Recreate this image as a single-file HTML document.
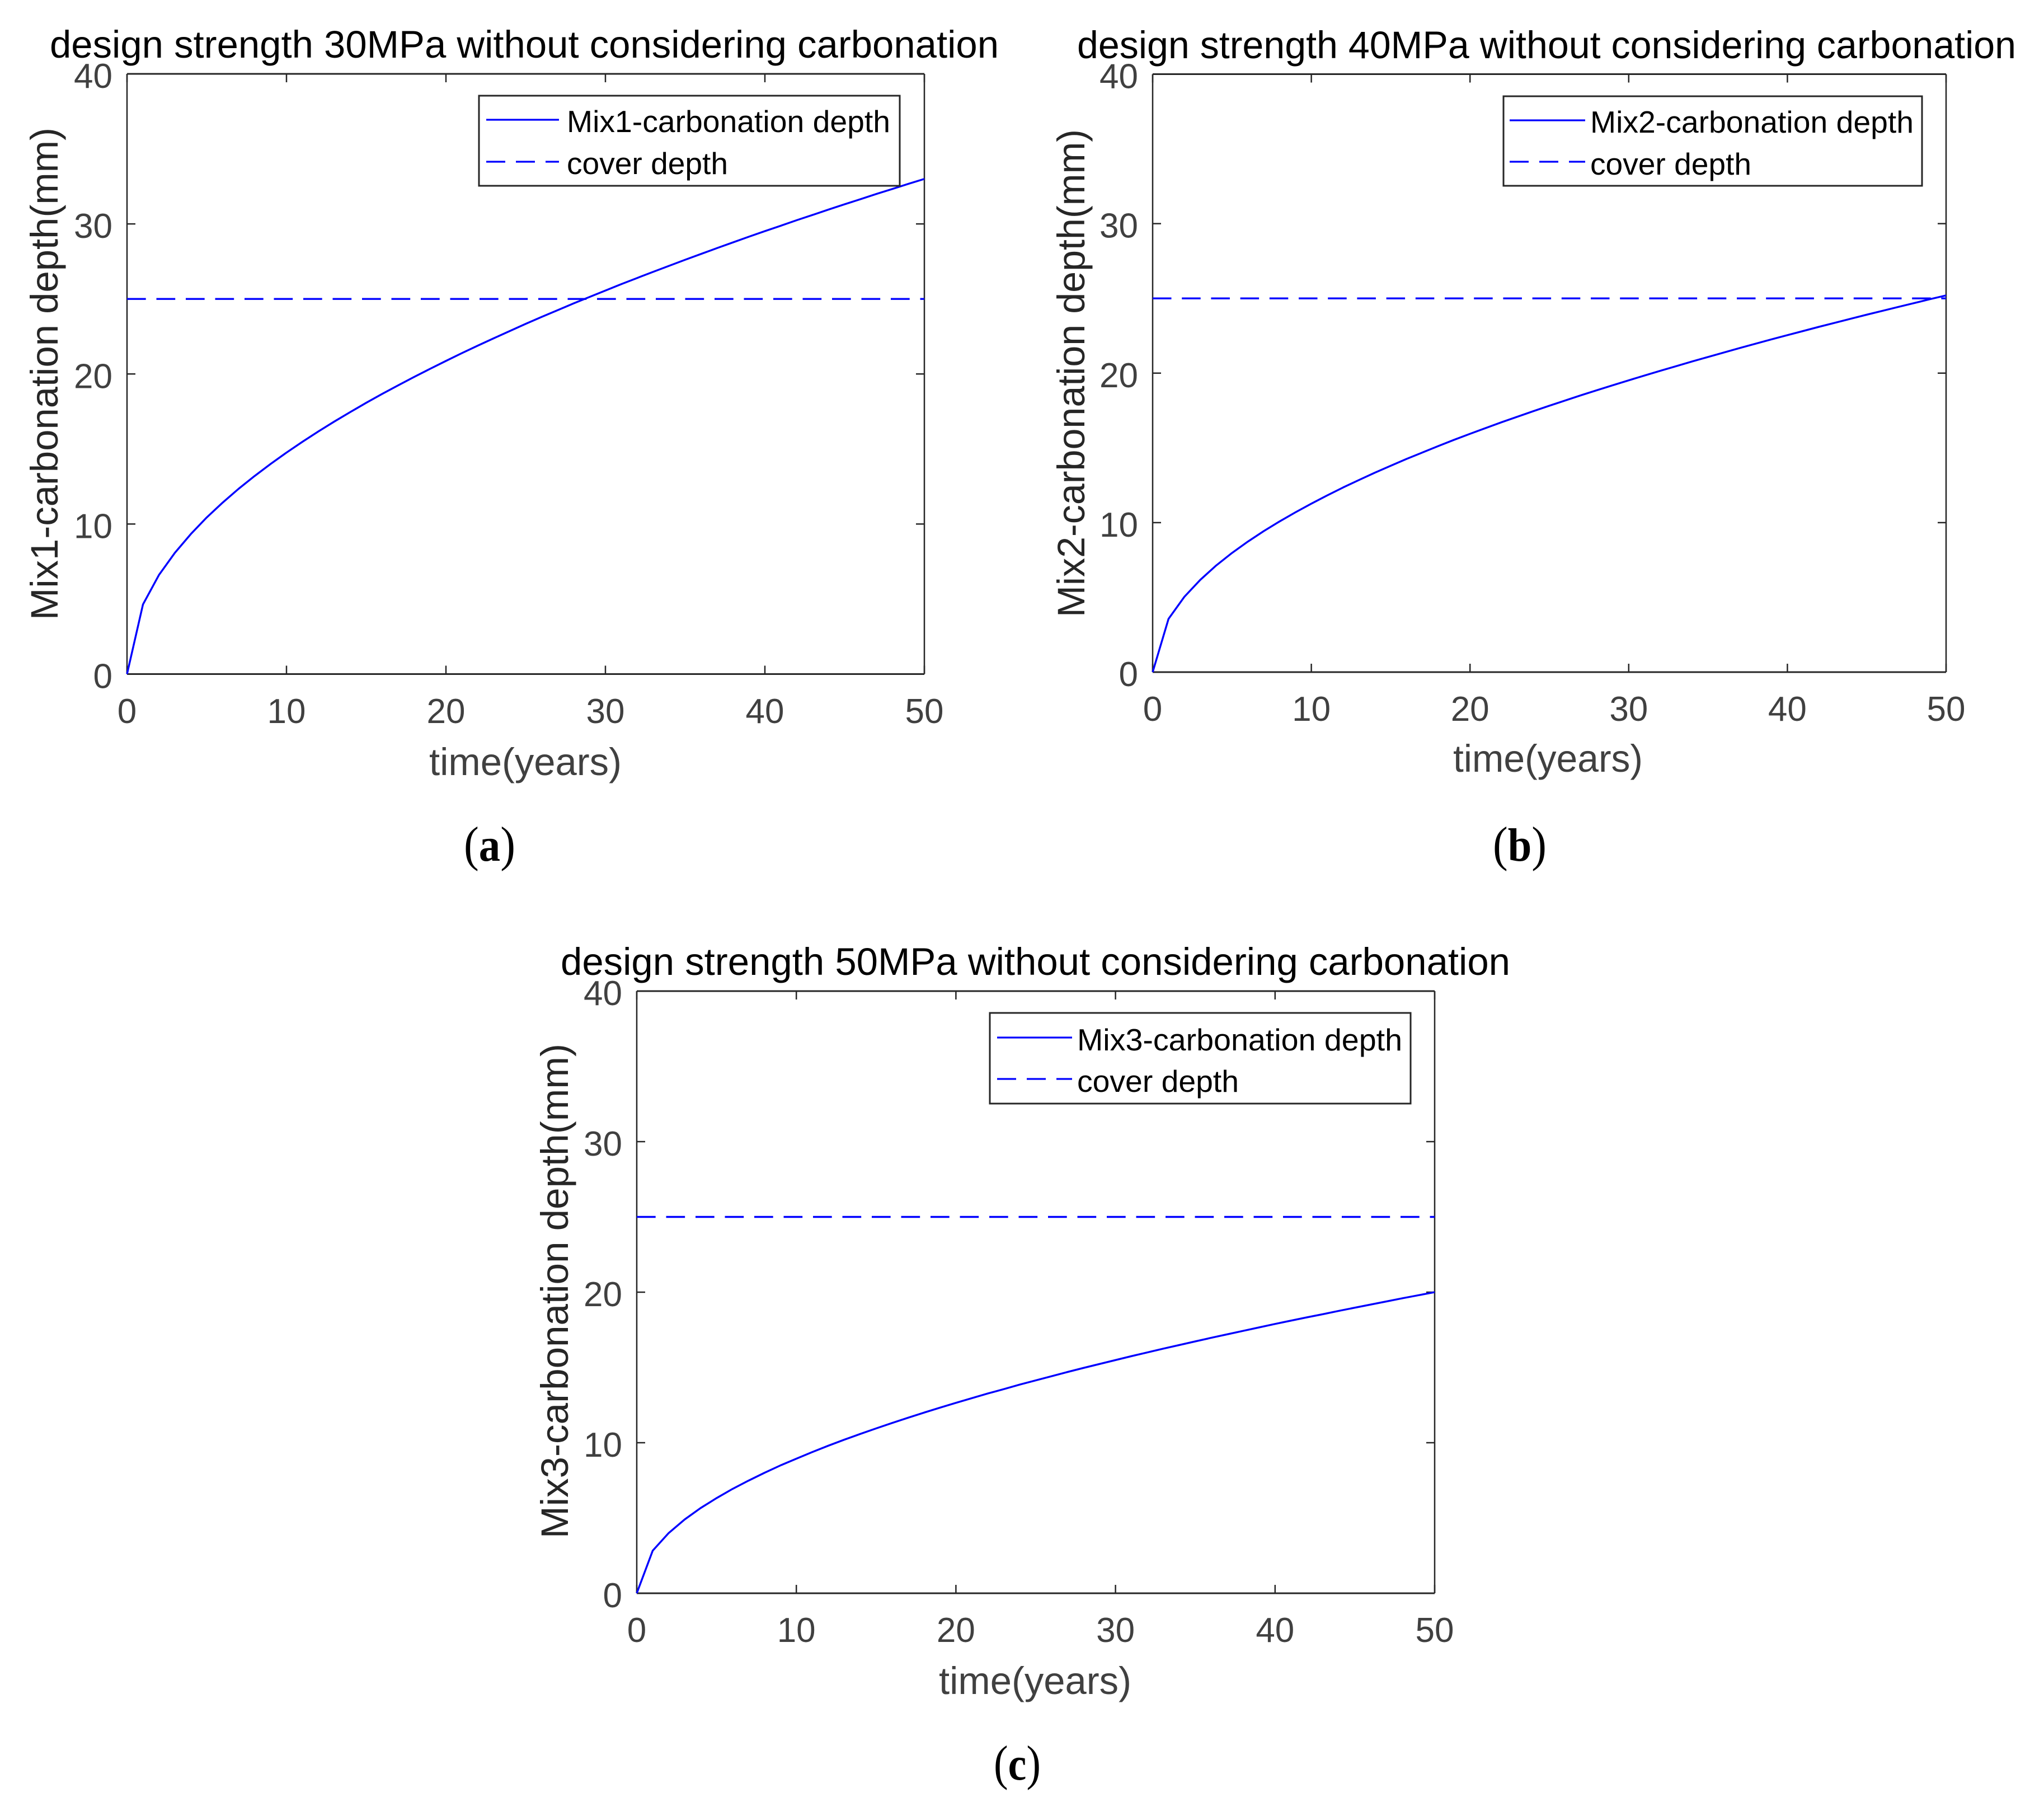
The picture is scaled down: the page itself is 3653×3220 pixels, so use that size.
<!DOCTYPE html>
<html lang="en">
<head>
<meta charset="utf-8">
<title>Carbonation depth over time for three concrete mixes</title>
<style>
  html, body { margin: 0; padding: 0; background: #ffffff; }
  svg { display: block; }
  text { font-family: "Liberation Sans", Arial, sans-serif; }
  .title { font-size: 69px; fill: #000000; }
  .xlabel { font-size: 69px; fill: #404040; }
  .ylabel { font-size: 69px; fill: #262626; }
  .legend-text { font-size: 55px; fill: #000000; }
  .tick-label { font-size: 62px; fill: #404040; }
  .caption { font-family: "Liberation Serif", "Times New Roman", serif; font-size: 88px; fill: #000000; }
  .caption .letter { font-weight: bold; font-size: 84px; }
</style>
</head>
<body>
<svg id="figure" xmlns="http://www.w3.org/2000/svg" width="3653" height="3220" viewBox="0 0 3653 3220">
  <rect x="0" y="0" width="3653" height="3220" fill="#ffffff"/>

  <g id="panel-a">
    <text class="title" x="89" y="103" textLength="1696" lengthAdjust="spacingAndGlyphs">design strength 30MPa without considering carbonation</text>
    <g id="plot-a"></g>
    <text class="xlabel" x="767" y="1385" textLength="344" lengthAdjust="spacingAndGlyphs">time(years)</text>
    <text class="ylabel" transform="translate(103 1108) rotate(-90)" x="0" y="0" textLength="880" lengthAdjust="spacingAndGlyphs">Mix1-carbonation depth(mm)</text>
    <g>
      <rect x="856" y="171" width="752" height="161" fill="#ffffff" stroke="#262626" stroke-width="3"/>
      <line x1="869" y1="214" x2="999" y2="214" stroke="#0000ff" stroke-width="3.3"/>
      <line x1="869" y1="289" x2="999" y2="289" stroke="#0000ff" stroke-width="3.3" stroke-dasharray="34 19"/>
      <text class="legend-text" x="1013" y="236" textLength="578" lengthAdjust="spacingAndGlyphs">Mix1-carbonation depth</text>
      <text class="legend-text" x="1013" y="311" textLength="288" lengthAdjust="spacingAndGlyphs">cover depth</text>
    </g>
    <text class="caption" x="829" y="1538" textLength="92" lengthAdjust="spacingAndGlyphs">(<tspan class="letter">a</tspan>)</text>
  </g>

  <g id="panel-b">
    <text class="title" x="1925" y="104" textLength="1678" lengthAdjust="spacingAndGlyphs">design strength 40MPa without considering carbonation</text>
    <g id="plot-b"></g>
    <text class="xlabel" x="2597" y="1379" textLength="339" lengthAdjust="spacingAndGlyphs">time(years)</text>
    <text class="ylabel" transform="translate(1938 1103) rotate(-90)" x="0" y="0" textLength="872" lengthAdjust="spacingAndGlyphs">Mix2-carbonation depth(mm)</text>
    <g>
      <rect x="2687" y="172" width="748" height="160" fill="#ffffff" stroke="#262626" stroke-width="3"/>
      <line x1="2698" y1="215" x2="2833" y2="215" stroke="#0000ff" stroke-width="3.3"/>
      <line x1="2698" y1="289" x2="2833" y2="289" stroke="#0000ff" stroke-width="3.3" stroke-dasharray="34 19"/>
      <text class="legend-text" x="2842" y="237" textLength="578" lengthAdjust="spacingAndGlyphs">Mix2-carbonation depth</text>
      <text class="legend-text" x="2842" y="312" textLength="288" lengthAdjust="spacingAndGlyphs">cover depth</text>
    </g>
    <text class="caption" x="2668" y="1538" textLength="96" lengthAdjust="spacingAndGlyphs">(<tspan class="letter">b</tspan>)</text>
  </g>

  <g id="panel-c">
    <text class="title" x="1002" y="1742" textLength="1697" lengthAdjust="spacingAndGlyphs">design strength 50MPa without considering carbonation</text>
    <g id="plot-c"></g>
    <text class="xlabel" x="1678" y="3027" textLength="344" lengthAdjust="spacingAndGlyphs">time(years)</text>
    <text class="ylabel" transform="translate(1015 2749) rotate(-90)" x="0" y="0" textLength="884" lengthAdjust="spacingAndGlyphs">Mix3-carbonation depth(mm)</text>
    <g>
      <rect x="1769" y="1810" width="752" height="162" fill="#ffffff" stroke="#262626" stroke-width="3"/>
      <line x1="1782" y1="1854" x2="1916" y2="1854" stroke="#0000ff" stroke-width="3.3"/>
      <line x1="1782" y1="1928" x2="1916" y2="1928" stroke="#0000ff" stroke-width="3.3" stroke-dasharray="34 19"/>
      <text class="legend-text" x="1925" y="1877" textLength="581" lengthAdjust="spacingAndGlyphs">Mix3-carbonation depth</text>
      <text class="legend-text" x="1925" y="1951" textLength="289" lengthAdjust="spacingAndGlyphs">cover depth</text>
    </g>
    <text class="caption" x="1776" y="3180" textLength="84" lengthAdjust="spacingAndGlyphs">(<tspan class="letter">c</tspan>)</text>
  </g>
</svg>

<script>
var years = [0,1,2,3,4,5,6,7,8,9,10,11,12,13,14,15,16,17,18,19,20,21,22,23,24,25,26,27,28,29,30,31,32,33,34,35,36,37,38,39,40,41,42,43,44,45,46,47,48,49,50];
var mix1Depth = [0,4.64,6.60,8.08,9.33,10.44,11.43,12.35,13.20,14.00,14.76,15.48,16.17,16.83,17.46,18.08,18.67,19.24,19.80,20.34,20.87,21.39,21.89,22.38,22.86,23.34,23.80,24.25,24.70,25.13,25.56,25.99,26.40,26.81,27.21,27.61,28.00,28.39,28.77,29.15,29.52,29.88,30.25,30.60,30.96,31.31,31.65,32.00,32.33,32.67,33.00];
var mix2Depth = [0,3.56,5.04,6.17,7.13,7.97,8.73,9.43,10.08,10.69,11.27,11.82,12.35,12.85,13.34,13.80,14.26,14.69,15.12,15.54,15.94,16.33,16.72,17.09,17.46,17.82,18.17,18.52,18.86,19.19,19.52,19.84,20.16,20.47,20.78,21.08,21.38,21.68,21.97,22.26,22.54,22.82,23.10,23.37,23.64,23.91,24.17,24.43,24.69,24.95,25.20];
var mix3Depth = [0,2.83,4.00,4.90,5.66,6.32,6.93,7.48,8.00,8.49,8.94,9.38,9.80,10.20,10.58,10.95,11.31,11.66,12.00,12.33,12.65,12.96,13.27,13.56,13.86,14.14,14.42,14.70,14.97,15.23,15.49,15.75,16.00,16.25,16.49,16.73,16.97,17.20,17.43,17.66,17.89,18.11,18.33,18.54,18.76,18.97,19.18,19.39,19.60,19.80,20.00];
var coverYears = [0,50];
var coverDepth = [25,25];
var xTicks = [0,10,20,30,40,50];
var yTicks = [0,10,20,30,40];

(function () {
  var NS = 'http://www.w3.org/2000/svg';
  var AXIS_COLOR = '#262626';
  var TICK_LENGTH = 15;
  var X_MAX = 50;
  var Y_MAX = 40;

  function make(parent, tag, attrs, name) {
    var el = document.createElementNS(NS, tag);
    for (var k in attrs) { el.setAttribute(k, attrs[k]); }
    
    
    parent.appendChild(el);
    return el;
  }

  function drawPanel(id, prefix, box, depth) {
    var g = document.getElementById(id);
    function xPos(v) { return box.left + (v / X_MAX) * (box.right - box.left); }
    function yPos(v) { return box.bottom - (v / Y_MAX) * (box.bottom - box.top); }

    function series(xs, ys, name, dash) {
      var pts = [];
      for (var i = 0; i < xs.length; i++) {
        pts.push(xPos(xs[i]).toFixed(2) + ',' + yPos(ys[i]).toFixed(2));
      }
      var attrs = { points: pts.join(' '), fill: 'none', stroke: '#0000ff', 'stroke-width': 3.4, 'stroke-linejoin': 'round' };
      if (dash) { attrs['stroke-dasharray'] = dash; }
      make(g, 'polyline', attrs, name);
    }

    xTicks.forEach(function (v) {
      var x = xPos(v);
      make(g, 'line', { x1: x, y1: box.bottom, x2: x, y2: box.bottom - TICK_LENGTH, stroke: AXIS_COLOR, 'stroke-width': 2.5 }, prefix + '-x-tick-bottom');
      make(g, 'line', { x1: x, y1: box.top, x2: x, y2: box.top + TICK_LENGTH, stroke: AXIS_COLOR, 'stroke-width': 2.5 }, prefix + '-x-tick-top');
      var label = make(g, 'text', { x: x, y: box.xLabelY, 'text-anchor': 'middle', 'class': 'tick-label' }, prefix + '-x-tick-label');
      label.textContent = String(v);
    });

    yTicks.forEach(function (v) {
      var y = yPos(v);
      make(g, 'line', { x1: box.left, y1: y, x2: box.left + TICK_LENGTH, y2: y, stroke: AXIS_COLOR, 'stroke-width': 2.5 }, prefix + '-y-tick-left');
      make(g, 'line', { x1: box.right, y1: y, x2: box.right - TICK_LENGTH, y2: y, stroke: AXIS_COLOR, 'stroke-width': 2.5 }, prefix + '-y-tick-right');
      var label = make(g, 'text', { x: box.yLabelX, y: y + 25, 'text-anchor': 'end', 'class': 'tick-label' }, prefix + '-y-tick-label');
      label.textContent = String(v);
    });

    make(g, 'line', { x1: box.left, y1: box.top, x2: box.right, y2: box.top, stroke: AXIS_COLOR, 'stroke-width': 3 }, prefix + '-top-axis-line');
    make(g, 'line', { x1: box.left, y1: box.bottom, x2: box.right, y2: box.bottom, stroke: AXIS_COLOR, 'stroke-width': 3 }, prefix + '-x-axis-line');
    make(g, 'line', { x1: box.left, y1: box.top, x2: box.left, y2: box.bottom, stroke: AXIS_COLOR, 'stroke-width': 2.5 }, prefix + '-y-axis-line');
    make(g, 'line', { x1: box.right, y1: box.top, x2: box.right, y2: box.bottom, stroke: AXIS_COLOR, 'stroke-width': 2.5 }, prefix + '-right-axis-line');

    series(coverYears, coverDepth, prefix + '-cover-depth-line', box.dash);
    series(years, depth, prefix + '-carbonation-depth-line');
  }

  drawPanel('plot-a', 'panel-a', { left: 227, right: 1652, top: 132, bottom: 1204.5, xLabelY: 1292, yLabelX: 201, dash: '33.7 18.8' }, mix1Depth);
  drawPanel('plot-b', 'panel-b', { left: 2060, right: 3478, top: 132.5, bottom: 1201, xLabelY: 1288, yLabelX: 2034, dash: '33.5 18.7' }, mix2Depth);
  drawPanel('plot-c', 'panel-c', { left: 1138, right: 2564, top: 1771, bottom: 2847, xLabelY: 2934, yLabelX: 1112, dash: '33.7 18.8' }, mix3Depth);
})();
</script>
</body>
</html>
